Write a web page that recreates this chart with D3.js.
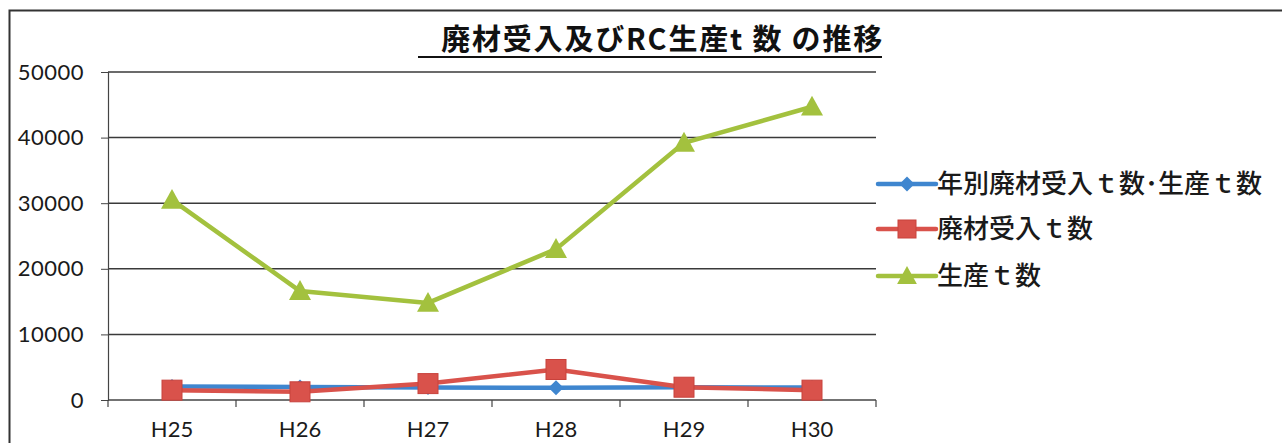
<!DOCTYPE html>
<html>
<head>
<meta charset="utf-8">
<script src="https://cdn.jsdelivr.net/npm/d3@7/dist/d3.min.js"></script>
<style>
  html, body { margin: 0; padding: 0; background: #fff; }
  svg { display: block; }
</style>
</head>
<body>
<svg id="chart" width="1282" height="443"></svg>
<script>
// Fiscal years (Heisei era)
const years = ["H25", "H26", "H27", "H28", "H29", "H30"];
// Tonnage series
const totalSeries = [2050, 2000, 1900, 1850, 1950, 1900];      // 年別廃材受入t数・生産t数
const wasteIn = [1500, 1250, 2500, 4650, 1950, 1500];          // 廃材受入t数
const production = [30500, 16600, 14800, 23000, 39200, 44700]; // 生産t数
const yTicks = [0, 10000, 20000, 30000, 40000, 50000];

const series = [
  { name: "年別廃材受入ｔ数･生産ｔ数", values: totalSeries, color: "#3f86cf", shape: "diamond" },
  { name: "廃材受入ｔ数", values: wasteIn, color: "#d9524b", shape: "square" },
  { name: "生産ｔ数", values: production, color: "#a3c13e", shape: "triangle" }
];

const svg = d3.select("#chart");
const font = "Lato, 'Noto Sans CJK JP', sans-serif";
const jpFont = "'Noto Sans CJK JP', sans-serif";

// frame (top and left edges)
svg.append("path")
  .attr("d", "M9.5,443 L9.5,10.5 L1282,10.5")
  .attr("fill", "none").attr("stroke", "#333").attr("stroke-width", 2);

const plotLeft = 108, plotRight = 876, plotTop = 72, plotBottom = 400;
const x = d3.scaleBand().domain(years).range([plotLeft, plotRight]);
const y = d3.scaleLinear().domain([0, 50000]).range([plotBottom, plotTop]);
const cx = d => x(d) + x.bandwidth() / 2;

// horizontal gridlines
svg.append("g").selectAll("line").data(yTicks.filter(d => d > 0)).join("line")
  .attr("x1", plotLeft).attr("x2", plotRight)
  .attr("y1", d => y(d)).attr("y2", d => y(d))
  .attr("stroke", "#3a3a3a").attr("stroke-width", 1.5);

// y axis
const yAxis = svg.append("g").attr("transform", `translate(${plotLeft},0)`)
  .call(d3.axisLeft(y).tickValues(yTicks).tickSize(7).tickPadding(17).tickFormat(d3.format("d")));
yAxis.select(".domain").attr("stroke", "#444").attr("stroke-width", 1.2);
yAxis.selectAll(".tick line").attr("stroke", "#444");
yAxis.selectAll("text").attr("font-family", font).attr("font-size", 22)
  .attr("letter-spacing", 0.5).attr("fill", "#1a1a1a");

// x axis with ticks between categories
const xAxisG = svg.append("g").attr("transform", `translate(0,${plotBottom})`);
xAxisG.append("line").attr("x1", plotLeft).attr("x2", plotRight).attr("y1", 0).attr("y2", 0)
  .attr("stroke", "#444").attr("stroke-width", 1.5);
const boundaries = years.map(d => x(d)).concat([plotRight]);
xAxisG.selectAll("line.tk").data(boundaries).join("line").attr("class", "tk")
  .attr("x1", d => d).attr("x2", d => d).attr("y1", 0).attr("y2", 7)
  .attr("stroke", "#444").attr("stroke-width", 1.2);
xAxisG.selectAll("text").data(years).join("text")
  .attr("x", d => cx(d)).attr("y", 37)
  .attr("text-anchor", "middle")
  .attr("font-family", font).attr("font-size", 22).attr("fill", "#1a1a1a")
  .text(d => d);

// marker drawing
function marker(g, shape, color, size) {
  if (shape === "diamond") {
    const s = size * 0.5;
    g.append("path").attr("d", `M0,${-s} L${s},0 L0,${s} L${-s},0 Z`).attr("fill", color);
  } else if (shape === "square") {
    const s = size * 0.5;
    g.append("rect").attr("x", -s).attr("y", -s).attr("width", 2 * s).attr("height", 2 * s)
      .attr("fill", color).attr("stroke", "#c8423c").attr("stroke-width", 1);
  } else {
    const s = size * 0.55;
    g.append("path").attr("d", `M0,${-s} L${s},${s * 0.8} L${-s},${s * 0.8} Z`).attr("fill", color);
  }
}

const line = d3.line().x((d, i) => cx(years[i])).y(d => y(d));

series.forEach(s => {
  const g = svg.append("g");
  g.append("path").datum(s.values).attr("d", line)
    .attr("fill", "none").attr("stroke", s.color).attr("stroke-width", 4.5)
    .attr("stroke-linejoin", "round");
  s.values.forEach((v, i) => {
    const m = g.append("g").attr("transform", `translate(${cx(years[i])},${y(v)})`);
    marker(m, s.shape, s.color, s.shape === "diamond" ? 15 : 20);
  });
});

// legend
const legendY = [184, 229, 276];
series.forEach((s, i) => {
  const g = svg.append("g").attr("transform", `translate(878,${legendY[i]})`);
  g.append("line").attr("x1", 0).attr("x2", 58).attr("y1", 0).attr("y2", 0)
    .attr("stroke", s.color).attr("stroke-width", 4.5).attr("stroke-linecap", "round");
  const m = g.append("g").attr("transform", "translate(29,0)");
  marker(m, s.shape, s.color, s.shape === "diamond" ? 15 : 18);
  g.append("text").attr("x", 59).attr("y", 9)
    .attr("font-family", jpFont).attr("font-size", 26).attr("font-weight", 500)
    .attr("fill", "#1a1a1a").text(s.name);
});

// title with underline
svg.append("text").attr("x", 884).attr("y", 49.5).attr("text-anchor", "end")
  .attr("font-family", jpFont).attr("font-size", 29).attr("font-weight", 700)
  .attr("letter-spacing", 1.8)
  .attr("fill", "#111").text("廃材受入及びRC生産t 数 の推移");
svg.append("line").attr("x1", 418).attr("x2", 882).attr("y1", 57).attr("y2", 57)
  .attr("stroke", "#111").attr("stroke-width", 2);
</script>
</body>
</html>
